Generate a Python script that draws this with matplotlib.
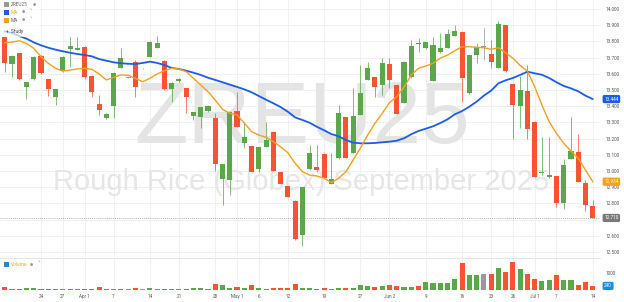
import matplotlib

matplotlib.use("Agg")
import matplotlib.pyplot as plt
import matplotlib.transforms as mtransforms
from matplotlib.patches import Rectangle
import numpy as np
import pandas as pd

# --- data ---------------------------------------------------------------
holidays = ["2025-04-18", "2025-05-26", "2025-06-19", "2025-07-04"]
sessions = pd.bdate_range("2025-03-17", "2025-07-14")
sessions = sessions[~sessions.isin(pd.to_datetime(holidays))]

opens = [13.829, 13.660, 13.727, 13.520, 13.566, 13.710, 13.566, 13.455, 13.617, 13.755,
         13.745, 13.767, 13.586, 13.412, 13.325, 13.401, 13.634, 13.577, 13.675, 13.634,
         13.706, 13.761, 13.681, 13.504, 13.557, 13.510, 13.340, 13.335, 13.370, 13.325,
         12.949, 12.944, 13.370, 13.171, 13.156, 13.010, 13.150, 13.243, 12.996, 12.909,
         12.817, 12.605, 13.010, 13.027, 13.105, 12.920, 13.078, 13.335, 13.109, 13.346,
         13.562, 13.582, 13.531, 13.659, 13.531, 13.418, 13.578, 13.792, 13.757, 13.557,
         13.733, 13.761, 13.833, 13.856, 13.480, 13.716, 13.767, 13.722, 13.634, 13.901,
         13.537, 13.401, 13.494, 13.304, 12.986, 12.965, 12.971, 12.801, 13.074, 13.119,
         12.928, 12.786]
highs = [13.833, 13.716, 13.728, 13.552, 13.710, 13.716, 13.568, 13.509, 13.707, 13.829,
         13.829, 13.772, 13.590, 13.471, 13.355, 13.611, 13.757, 13.580, 13.685, 13.636,
         13.802, 13.833, 13.685, 13.549, 13.574, 13.512, 13.367, 13.395, 13.407, 13.356,
         13.043, 13.370, 13.490, 13.298, 13.160, 13.148, 13.304, 13.247, 12.997, 12.910,
         12.818, 12.901, 13.160, 13.160, 13.108, 13.113, 13.407, 13.336, 13.510, 13.654,
         13.675, 13.583, 13.696, 13.696, 13.534, 13.676, 13.809, 13.819, 13.799, 13.829,
         13.854, 13.875, 13.901, 13.858, 13.719, 13.788, 13.881, 13.809, 13.928, 13.904,
         13.541, 13.586, 13.654, 13.306, 13.212, 13.212, 12.972, 13.072, 13.335, 13.228,
         12.944, 12.821]
lows = [13.613, 13.578, 13.562, 13.443, 13.562, 13.599, 13.463, 13.407, 13.614, 13.644,
        13.744, 13.570, 13.455, 13.346, 13.324, 13.325, 13.633, 13.574, 13.459, 13.632,
        13.704, 13.759, 13.500, 13.428, 13.552, 13.356, 13.315, 13.264, 13.367, 13.002,
        12.790, 12.852, 13.272, 13.140, 12.994, 12.991, 13.148, 13.000, 12.917, 12.840,
        12.577, 12.537, 13.006, 12.994, 12.954, 12.917, 13.077, 13.080, 13.108, 13.343,
        13.559, 13.459, 13.469, 13.510, 13.349, 13.417, 13.577, 13.736, 13.756, 13.556,
        13.731, 13.759, 13.831, 13.428, 13.478, 13.665, 13.685, 13.634, 13.633, 13.614,
        13.196, 13.264, 13.196, 12.960, 12.975, 12.957, 12.780, 12.764, 13.071, 12.932,
        12.755, 12.707]
closes = [13.669, 13.712, 13.566, 13.549, 13.706, 13.603, 13.504, 13.506, 13.702, 13.772,
          13.761, 13.578, 13.488, 13.377, 13.352, 13.607, 13.696, 13.577, 13.520, 13.634,
          13.798, 13.788, 13.504, 13.545, 13.568, 13.459, 13.364, 13.393, 13.403, 13.043,
          13.041, 13.366, 13.273, 13.208, 12.996, 13.146, 13.191, 13.002, 12.918, 12.841,
          12.580, 12.899, 13.109, 13.006, 12.955, 12.949, 13.356, 13.082, 13.340, 13.480,
          13.634, 13.517, 13.669, 13.562, 13.350, 13.675, 13.772, 13.782, 13.796, 13.778,
          13.761, 13.846, 13.866, 13.572, 13.716, 13.767, 13.767, 13.675, 13.907, 13.617,
          13.407, 13.500, 13.259, 12.961, 12.996, 12.975, 12.804, 13.037, 13.125, 12.934,
          12.790, 12.710]
volume = [196, 78, 78, 137, 137, 78, 78, 78, 78, 78,
          78, 78, 78, 157, 78, 78, 78, 70, 137, 40,
          118, 78, 78, 78, 78, 78, 98, 118, 78, 373,
          275, 137, 196, 137, 275, 137, 78, 137, 137, 137,
          373, 100, 100, 80, 118, 80, 100, 110, 130, 294,
          235, 176, 216, 294, 216, 176, 196, 216, 490, 392,
          412, 392, 667, 1569, 882, 882, 941, 941, 1294, 1078,
          1667, 1240, 950, 650, 530, 600, 870, 570, 570, 310,
          480, 240]
ma_fast = [13.792, 13.796, 13.804, 13.788, 13.757, 13.706, 13.665, 13.634, 13.617, 13.623,
           13.630, 13.634, 13.628, 13.599, 13.562, 13.578, 13.593, 13.591, 13.572, 13.551,
           13.572, 13.599, 13.619, 13.634, 13.630, 13.613, 13.572, 13.531, 13.490, 13.438,
           13.381, 13.356, 13.346, 13.296, 13.243, 13.222, 13.208, 13.181, 13.150, 13.113,
           13.048, 12.996, 12.975, 12.969, 12.955, 12.928, 12.955, 12.996, 13.068, 13.142,
           13.222, 13.294, 13.356, 13.422, 13.459, 13.517, 13.593, 13.634, 13.648, 13.665,
           13.696, 13.716, 13.743, 13.767, 13.767, 13.764, 13.761, 13.751, 13.761, 13.730,
           13.696, 13.652, 13.617, 13.520, 13.407, 13.304, 13.233, 13.171, 13.123, 13.078,
           13.006, 12.934]
ma_slow = [13.862, 13.852, 13.833, 13.817, 13.794, 13.776, 13.761, 13.749, 13.739, 13.730,
           13.722, 13.716, 13.708, 13.691, 13.681, 13.671, 13.665, 13.662, 13.660, 13.667,
           13.675, 13.667, 13.654, 13.636, 13.630, 13.619, 13.607, 13.593, 13.576, 13.562,
           13.548, 13.533, 13.519, 13.504, 13.486, 13.463, 13.440, 13.418, 13.395, 13.366,
           13.331, 13.315, 13.298, 13.273, 13.251, 13.228, 13.214, 13.191, 13.175, 13.171,
           13.171, 13.173, 13.177, 13.181, 13.187, 13.202, 13.227, 13.247, 13.261, 13.276,
           13.296, 13.319, 13.350, 13.370, 13.397, 13.428, 13.465, 13.496, 13.541, 13.560,
           13.574, 13.593, 13.613, 13.603, 13.594, 13.574, 13.548, 13.525, 13.510, 13.492,
           13.465, 13.444]

tick_dates = ["2025-03-24", "2025-03-27", "2025-04-01", "2025-04-07", "2025-04-14",
              "2025-04-21", "2025-04-28", "2025-05-01", "2025-05-06", "2025-05-12",
              "2025-05-19", "2025-05-27", "2025-06-02", "2025-06-09", "2025-06-16",
              "2025-06-23", "2025-06-26", "2025-07-01", "2025-07-07", "2025-07-14"]
price_ticks = [12.5, 12.6, 12.7, 12.8, 12.9, 13.0, 13.1, 13.2, 13.3, 13.4,
               13.5, 13.6, 13.7, 13.8, 13.9, 14.0]

# --- styling ------------------------------------------------------------
GREEN = "#5aa84a"
RED = "#fb5331"
GREY = "#9a9a9a"
BLUE = "#1a5cf0"
ORANGE = "#f9a01b"
GRID = "#efefef"
TXT = "#555555"
UI_FONT = ["Roboto", "DejaVu Sans"]
W, H = 624, 302


def fpos(x, y):
    """Pixel position (from top-left) -> figure fraction."""
    return x / W, 1 - y / H


o = np.array(opens)
c = np.array(closes)
x = np.arange(len(sessions))
colors = np.where(c > o, GREEN, np.where(c < o, RED, GREY))

fig = plt.figure(figsize=(W / 100, H / 100), dpi=100)
fig.patch.set_facecolor("white")
ax = fig.add_axes([0, 1 - 257 / H, 600 / W, 257 / H])
axv = fig.add_axes([0, 1 - 290 / H, 600 / W, 32 / H])

tick_pos = [sessions.get_loc(pd.Timestamp(d)) for d in tick_dates]
tick_lbl = []
for d in tick_dates:
    ts = pd.Timestamp(d)
    first = sessions[sessions.month == ts.month][0] == ts
    tick_lbl.append(ts.strftime("%b ") + str(ts.day) if first else str(ts.day))

for a in (ax, axv):
    a.set_xlim(-0.65, 82.0)
    for s in a.spines.values():
        s.set_visible(False)
    for tp in tick_pos:
        a.axvline(tp, color=GRID, lw=0.6, zorder=0)

# price panel
ax.set_ylim(12.469, 14.0556)
for p in price_ticks:
    ax.axhline(p, color=GRID, lw=0.6, zorder=0)

ax.text(0.503, 0.4436, "ZREU25", transform=ax.transAxes, ha="center",
        va="baseline", fontsize=63, color="#e4e4e4",
        family=["Liberation Sans", "DejaVu Sans"], zorder=0.5)
ax.text(0.5025, 0.2626, "Rough Rice (Globex) September 2025",
        transform=ax.transAxes, ha="center", va="baseline", fontsize=21,
        color="#e6e6e6", family=["Liberation Sans", "DejaVu Sans"], zorder=0.5)

ax.vlines(x, lows, highs, colors=colors, lw=0.7, alpha=0.75, zorder=2)
body = np.maximum(np.abs(c - o), 0.004)
ax.bar(x, body, bottom=np.minimum(o, c), width=0.7, color=colors, lw=0,
       zorder=3)
ax.plot(x, ma_slow, color=BLUE, lw=1.3, zorder=4, solid_capstyle="round")
ax.plot(x, ma_fast, color=ORANGE, lw=1.0, zorder=4)
ax.axhline(closes[-1], color=GREY, lw=0.6, ls=(0, (1, 1.5)), zorder=1)

# the last-price box sits on top of the 12.700 label, so that one is blank
last = closes[-1]
ax.yaxis.tick_right()
ax.set_yticks(price_ticks)
ax.set_yticklabels(["" if abs(p - last) < 0.03 else f"{p:.3f}"
                    for p in price_ticks],
                   fontsize=3.3, color=TXT, family=UI_FONT)
ax.tick_params(axis="y", length=0, pad=4.3)
ax.tick_params(axis="x", length=0, labelbottom=False)

tr = mtransforms.blended_transform_factory(ax.transAxes, ax.transData)
for val, txt, fc in [(ma_slow[-1], f"{ma_slow[-1]:.3f}", BLUE),
                     (ma_fast[-1], f"{ma_fast[-1]:.3f}", ORANGE),
                     (last, f"{last:.3f}", "#7a7a7a")]:
    ax.text(1.007, val, txt, transform=tr, fontsize=3.3, color="white",
            va="center", ha="left", family=UI_FONT, zorder=6, clip_on=False,
            bbox=dict(boxstyle="round,pad=0.35", fc=fc, ec="none"))

# volume panel
axv.set_ylim(0, 1882)
axv.bar(x, volume, width=0.7, color=colors, lw=0, zorder=3)
axv.spines["top"].set_visible(True)
axv.spines["top"].set_color("#e2e2e2")
axv.spines["top"].set_linewidth(0.6)
axv.yaxis.tick_right()
axv.set_yticks([1000])
axv.set_yticklabels(["1000"], fontsize=3.3, color=TXT, family=UI_FONT)
axv.tick_params(axis="y", length=0, pad=4.3)
axv.set_xticks(tick_pos)
axv.set_xticklabels(tick_lbl, fontsize=3.3, color=TXT, family=UI_FONT)
axv.tick_params(axis="x", length=0, pad=3.2)
trv = mtransforms.blended_transform_factory(axv.transAxes, axv.transData)
axv.text(1.007, volume[-1], str(volume[-1]), transform=trv, fontsize=3.3,
         color="white", va="center", ha="left", family=UI_FONT, zorder=6,
         clip_on=False, bbox=dict(boxstyle="round,pad=0.35", fc="#1e88e5",
                                  ec="none"))

# legend block, top left
fig.patches.append(Rectangle(fpos(0, 37), 40 / W, 37 / H,
                             transform=fig.transFigure, fc="white",
                             ec="none", alpha=0.7, zorder=5))
rows = [("ZREU25", GREY, "#666666", 4.5, False),
        ("MA", BLUE, "#f2a83a", 12.3, True),
        ("MA", ORANGE, "#666666", 20.2, True)]
for label, sq, tc, yy, dd in rows:
    fig.patches.append(Rectangle(fpos(4, yy + 2.5), 5 / W, 5 / H,
                                 transform=fig.transFigure, fc=sq, ec="none",
                                 zorder=6))
    fig.text(*fpos(11, yy), label, fontsize=3.4, color=tc, va="center",
             family=UI_FONT, zorder=7)
    ex = 34 if label == "ZREU25" else 23
    fig.text(*fpos(ex, yy), "\u25cf", fontsize=2.6, color="#9a9a9a",
             va="center", ha="center", zorder=7)
    if dd:
        fig.text(*fpos(31, yy - 0.5), "\u02c5", fontsize=3.4, color="#888888",
                 va="center", ha="center", family=["DejaVu Sans"], zorder=7)
fig.text(*fpos(6, 31), "+  Study", fontsize=3.4, color="#444444",
         va="center", family=UI_FONT, zorder=7)

fig.patches.append(Rectangle(fpos(4, 267), 5 / W, 5 / H,
                             transform=fig.transFigure, fc="#1e88e5",
                             ec="none", zorder=6))
fig.text(*fpos(11, 264.5), "Volume", fontsize=3.4, color="#f2a83a",
         va="center", family=UI_FONT, zorder=7)
fig.text(*fpos(31, 264.5), "\u25cf", fontsize=2.6, color="#9a9a9a",
         va="center", ha="center", zorder=7)
fig.text(*fpos(39, 264), "\u02c5", fontsize=3.4, color="#888888",
         va="center", ha="center", zorder=7)

fig.savefig("out.png", dpi=100)
